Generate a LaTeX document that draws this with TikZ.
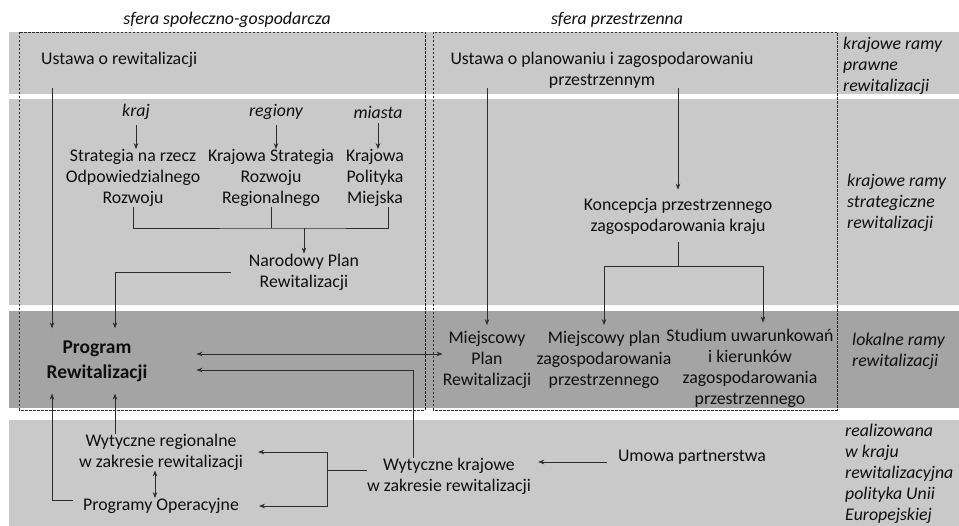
\documentclass[tikz,border=0pt]{standalone}
\usepackage{fontspec}
\setmainfont{Carlito}
\usepackage{tikz}
\usetikzlibrary{arrows.meta, positioning}
\definecolor{lband}{RGB}{201, 201, 201}
\definecolor{dband}{RGB}{164, 164, 164}
\definecolor{dtext}{RGB}{15, 15, 15}
\definecolor{dline}{RGB}{45, 45, 45}

\begin{document}
\begin{tikzpicture}[
  x=1pt, y=-1pt,
  txt/.style={font=\fontsize{17.8}{21}\selectfont, text=dtext,
              align=center, inner sep=0pt},
  itxt/.style={txt, font=\fontsize{17.8}{21}\selectfont\itshape},
  side/.style={itxt, align=left, anchor=west},
  dbox/.style={draw=dline, dash pattern=on 2.5pt off 1.5pt, line width=0.6pt},
  conn/.style={draw=dline, line width=0.7pt},
  arr/.style={conn, -{Stealth[length=6pt, width=4.5pt]}},
  dbl/.style={conn, {Stealth[length=6pt, width=4.5pt]}-{Stealth[length=6pt, width=4.5pt]}}
]
  \useasboundingbox (0,0) rectangle (959,526);

  % bands
  \fill[lband] (9,32) rectangle (959,94);
  \fill[lband] (9,99) rectangle (959,305);
  \fill[dband] (9,311) rectangle (959,408);
  \fill[lband] (9,420) rectangle (959,526);

  \draw[dbox] (19,32) rectangle (425,410);
  \draw[dbox] (433,32) rectangle (837,410);

  \node[itxt] (hsg) at (227,20) {sfera społeczno-gospodarcza};
  \node[itxt] (hpr) at (617,20) {sfera przestrzenna};

  % sfera spoleczno-gospodarcza
  \node[txt, anchor=west] (ustr) at (41,60) {Ustawa o rewitalizacji};

  \node[txt] (sor) at (133,178) {Strategia na rzecz\\Odpowiedzialnego\\Rozwoju};
  \node[txt] (ksrr) at (271,178) {Krajowa Strategia\\Rozwoju\\Regionalnego};
  \node[txt] (kpm) at (375,178) {Krajowa\\Polityka\\Miejska};

  \node[itxt] (kraj) at (136,112) {kraj};
  \node[itxt] (reg) at (276,112) {regiony};
  \node[itxt] (miasta) at (378,112) {miasta};

  \node[txt] (npr) at (304,272) {Narodowy Plan\\Rewitalizacji};

  \node[txt, font=\fontsize{19.5}{25}\selectfont\bfseries, inner ysep=12pt]
    (progr) at (97,361) {Program\\Rewitalizacji};

  % sfera przestrzenna
  \node[txt] (ustp) at (602,70) {Ustawa o planowaniu i zagospodarowaniu\\przestrzennym};
  \node[txt, inner ysep=8pt] (kpzk) at (678,216)
    {Koncepcja przestrzennego\\zagospodarowania kraju};

  \node[txt, inner ysep=6pt] (mplr) at (487,360) {Miejscowy\\Plan\\Rewitalizacji};
  \node[txt, inner ysep=6pt] (mpzp) at (604,360)
    {Miejscowy plan\\zagospodarowania\\przestrzennego};
  \node[txt, inner ysep=6pt] (suikzp) at (750,368)
    {Studium uwarunkowań\\i kierunków\\zagospodarowania\\przestrzennego};

  % polityka UE
  \node[txt] (wreg) at (161,452) {Wytyczne regionalne\\w zakresie rewitalizacji};
  \node[txt] (pop) at (161,506) {Programy Operacyjne};
  \node[txt] (wkraj) at (449,476) {Wytyczne krajowe\\w zakresie rewitalizacji};
  \node[txt] (umowa) at (692,457) {Umowa partnerstwa};

  % side labels
  \node[side] (lprawne) at (843,66) {krajowe ramy\\prawne\\rewitalizacji};
  \node[side] (lstrat) at (847,203) {krajowe ramy\\strategiczne\\rewitalizacji};
  \node[side] (llok) at (852,351) {lokalne ramy\\rewitalizacji};
  \node[side] (lue) at (845,474)
    {realizowana\\w kraju\\rewitalizacyjna\\polityka Unii\\Europejskiej};

  \coordinate (xa) at (52,0);
  \coordinate (xb) at (115,0);
  \coordinate (jn) at (304,228);
  \coordinate (jp) at (678,266);
  \coordinate (jw) at (327,470);

  % connectors
  \draw[arr, shorten <=5pt] (kraj.south) -- (kraj.south |- sor.north);
  \draw[arr, shorten <=5pt] (reg.south) -- (reg.south |- ksrr.north);
  \draw[arr, shorten <=5pt] (miasta.south) -- (miasta.south |- kpm.north);

  \draw[conn] (sor.south) |- (jn) -| ([xshift=13pt]kpm.south);
  \draw[conn] (ksrr.south) -- (ksrr.south |- jn);
  \draw[arr] (jn) -- (npr.north);

  \draw[arr, shorten <=20pt] (ustr.south -| xa) -- (progr.north -| xa);
  \draw[arr] ([xshift=-18pt]npr.west) -| (progr.north -| xb);

  \draw[arr] (ustp.south -| mplr.north) -- (mplr.north);
  \draw[arr] (ustp.south -| kpzk.north) -- (kpzk.north);
  \draw[conn] (kpzk.south) -- (jp);
  \draw[arr] (jp) -| (mpzp.north);
  \draw[arr] (jp) -| ([xshift=13pt]suikzp.north);

  \draw[dbl] ([xshift=49pt, yshift=7pt]progr.east) -- ([yshift=7pt]progr.east -| mplr.west);
  \draw[arr] ([xshift=-36pt]wkraj.north) |- ([xshift=49pt, yshift=-9pt]progr.east);

  \draw[arr] (wreg.north -| xb) -- (progr.south -| xb);
  \draw[arr] ([xshift=-10pt, yshift=6pt]pop.west) -| (progr.south -| xa);
  \draw[dbl] ([xshift=-6pt]wreg.south) -- ([xshift=-6pt]pop.north);

  \draw[conn] ([yshift=6pt]wkraj.west) -- (jw);
  \draw[arr] (jw) |- ([xshift=15pt]wreg.east);
  \draw[arr] (jw) |- ([xshift=20pt]pop.east);

  \draw[arr] ([xshift=-11pt, yshift=-5pt]umowa.west) -- ([xshift=7pt, yshift=-5pt]umowa.west -| wkraj.east);

\end{tikzpicture}
\end{document}
